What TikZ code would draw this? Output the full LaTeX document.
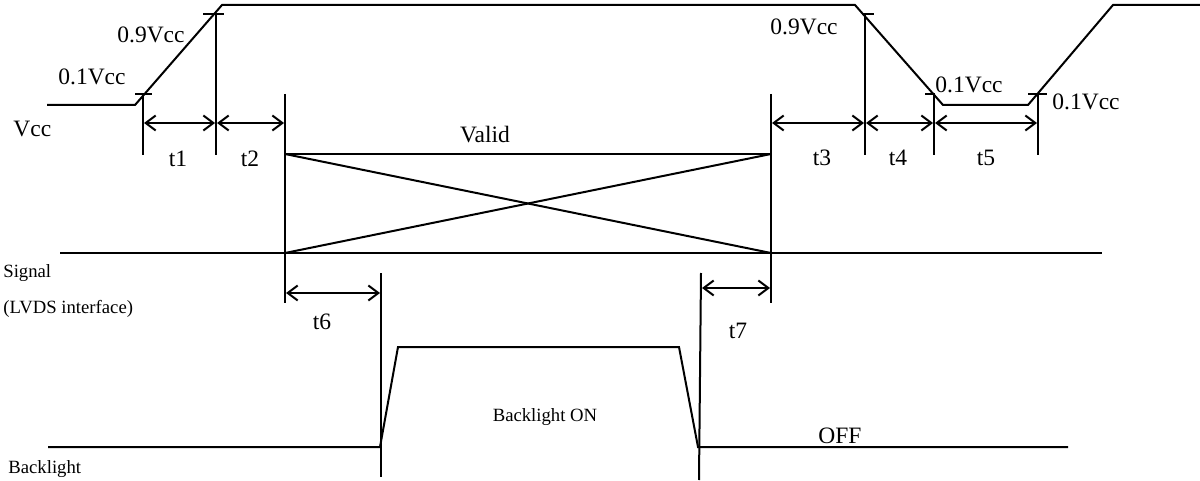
\documentclass[tikz,border=0pt]{standalone}
\usepackage{fontspec}
\setmainfont{Liberation Serif}
\usetikzlibrary{arrows.meta}
\begin{document}
\begin{tikzpicture}[x=0.5pt,y=-0.5pt,
  wave/.style={line width=1pt,line join=miter},
  guide/.style={line width=1pt},
  dim/.style={line width=1pt,{Straight Barb[length=5pt,width=7.5pt,line width=1pt]}-{Straight Barb[length=5pt,width=7.5pt,line width=1pt]},shorten <=0.5pt,shorten >=0.5pt},
  big/.style={inner sep=0pt,font=\fontsize{11.75pt}{13pt}\selectfont},
  small/.style={inner sep=0pt,font=\fontsize{9.35pt}{11pt}\selectfont}]
\useasboundingbox (0,0) rectangle (1200,481);
% Vcc waveform
\coordinate (v0) at (47,105); \coordinate (v1) at (135,105);
\coordinate (v2) at (222,5); \coordinate (v3) at (855,5);
\coordinate (v4) at (943,105); \coordinate (v5) at (1028,105);
\coordinate (v6) at (1113,5); \coordinate (v7) at (1200,5);
\draw[wave] (v0) -- (v1) -- (v2) -- (v3) -- (v4) -- (v5) -- (v6) -- (v7);
% ticks
\coordinate (k1) at (143,94); \coordinate (k2) at (216,14);
\coordinate (k3) at (865,14); \coordinate (k4) at (934,94); \coordinate (k5) at (1038,94);
\draw[guide] (135,94) -- (152,94);
\draw[guide] (203,14) -- (224,14);
\draw[guide] (862,14) -- (874,14);
\draw[guide] (925,94) -- (935,94);
\draw[guide] (1028,94) -- (1047,94);
% vertical guides
\coordinate (g1) at (143,155); \coordinate (g2) at (216,155);
\coordinate (g3) at (865,155); \coordinate (g4) at (934,155); \coordinate (g5) at (1038,155);
\draw[guide] (k1) -- (g1); \draw[guide] (k2) -- (g2);
\draw[guide] (k3) -- (g3); \draw[guide] (k4) -- (g4); \draw[guide] (k5) -- (g5);
\coordinate (sL) at (285,94); \coordinate (sLb) at (285,303);
\coordinate (sR) at (771,94); \coordinate (sRb) at (771,303);
\draw[guide] (sL) -- (sLb); \draw[guide] (sR) -- (sRb);
% dimension arrows Vcc
\draw[dim] (143,123) -- (216,123);
\draw[dim] (216,123) -- (285,123);
\draw[dim] (771,123) -- (865,123);
\draw[dim] (865,123) -- (934,123);
\draw[dim] (934,123) -- (1038,123);
% Signal
\coordinate (s0) at (60,253); \coordinate (s1) at (1102,253);
\coordinate (bTL) at (285,154); \coordinate (bTR) at (771,154);
\coordinate (bBL) at (285,253); \coordinate (bBR) at (771,253);
\draw[wave] (s0) -- (s1);
\draw[wave] (bTL) -- (bTR);
\draw[wave] (bTL) -- (bBR);
\draw[wave] (bBL) -- (bTR);
% Backlight
\coordinate (b0) at (48,447); \coordinate (b1) at (380,447);
\coordinate (b2) at (398,347); \coordinate (b3) at (679,347);
\coordinate (b4) at (698,447); \coordinate (b5) at (1068,447);
\draw[wave] (b0) -- (b1) -- (b2) -- (b3) -- (b4) -- (b5);
\coordinate (t6a) at (381,273); \coordinate (t6b) at (381,477);
\coordinate (t7a) at (701,273); \coordinate (t7b) at (699,480);
\draw[guide] (t6a) -- (t6b);
\draw[guide] (t7a) -- (t7b);
\draw[dim] (285,293) -- (381,293);
\draw[dim] (701,288) -- (771,288);
% labels
\node[big,anchor=base west] (l01a) at (58,85) {0.1Vcc};
\node[big,anchor=base west] (l09a) at (117,43) {0.9Vcc};
\node[big,anchor=base west] (lvcc) at (13,137) {Vcc};
\node[big,anchor=base] (lt1) at (178,167) {t1};
\node[big,anchor=base] (lt2) at (250,167) {t2};
\node[big,anchor=base] (lvalid) at (485,143) {Valid};
\node[big,anchor=base west] (l09b) at (770,35) {0.9Vcc};
\node[big,anchor=base west] (l01b) at (935,93) {0.1Vcc};
\node[big,anchor=base west] (l01c) at (1052,110) {0.1Vcc};
\node[big,anchor=base] (lt3) at (822,165) {t3};
\node[big,anchor=base] (lt4) at (898,165) {t4};
\node[big,anchor=base] (lt5) at (986,165) {t5};
\node[small,anchor=base west] (lsig) at (3,277) {Signal};
\node[small,anchor=base west] (llvds) at (3,313) {(LVDS interface)};
\node[small,anchor=base west] (lbl) at (8,473) {Backlight};
\node[big,anchor=base] (lt6) at (322,329) {t6};
\node[big,anchor=base] (lt7) at (738,338) {t7};
\node[small,anchor=base] (lon) at (545,421) {Backlight ON};
\node[big,anchor=base west] (loff) at (818,443) {OFF};
\end{tikzpicture}
\end{document}
